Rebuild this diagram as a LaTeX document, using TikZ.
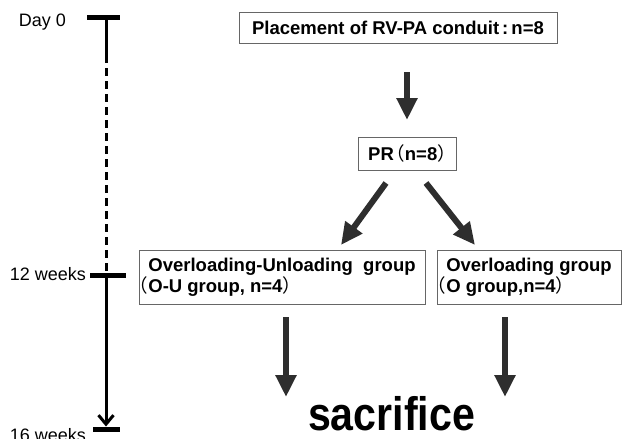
\documentclass[tikz,border=0pt]{standalone}
\usepackage{fontspec}
\setmainfont{Liberation Sans}
\newfontfamily\cjk{Noto Sans CJK SC}
\usetikzlibrary{arrows.meta}
\newcommand{\lpar}{{\mdseries\cjk （}}
\newcommand{\rpar}{{\mdseries\cjk ）}}
\begin{document}
\begin{tikzpicture}[x=1pt,y=-1pt,
  box/.style={draw=black!60, line width=0.9pt, inner sep=0pt, align=left,
    font=\fontsize{18.5}{19.5}\selectfont\bfseries},
  blockarrow/.style={black!82, line width=6pt, -{Triangle[length=22pt,width=20pt]}},
  tickbar/.style={fill=black, inner sep=0pt, minimum height=5pt},
  axis/.style={line width=3pt},
  lbl/.style={font=\fontsize{18}{20}\selectfont, inner sep=0pt}
]
\useasboundingbox (0,0) rectangle (624,439);
% timeline
\node[tickbar, minimum width=33pt] (b0) at (103.5,17) {};
\node[tickbar, minimum width=36pt] (b12) at (108,275) {};
\node[tickbar, minimum width=27pt] (b16) at (106.5,429) {};
\coordinate (v0) at (106,17);
\coordinate (v1) at (106,55);
\coordinate (v12) at (106,275);
\coordinate (v16) at (106,426.5);
\draw[axis] (v0) -- (v1);
\draw[axis, dash pattern=on 8pt off 5pt] (v1) -- (v12);
\draw[axis, -{Straight Barb[length=9pt,width=15pt]}] (v12) -- (v16);
\node[lbl, anchor=base east] (d0) at (66,27) {Day 0};
\node[lbl, anchor=base east] (w12) at (86,280) {12 weeks};
\node[lbl, anchor=base east] (w16) at (86,441) {16 weeks};
% boxes
\node[box, minimum width=318pt, minimum height=31pt] (place) at (398,27.5)
  {Placement of RV-PA conduit\,:\,n=8};
\node[box, minimum width=98pt, minimum height=33pt] (pr) at (407,153.5)
  {PR\kern-7.5pt\lpar n=8\rpar\kern-10pt};
\node[box, minimum width=286pt, minimum height=54pt] (ou) at (282,277.5)
  {Overloading-Unloading\ \ group\\\llap{\lpar}O-U group, n=4\rpar};
\node[box, minimum width=184pt, minimum height=54pt] (og) at (529,277.5)
  {Overloading group\\\llap{\lpar}O group,n=4\rpar};
\node[font=\fontsize{47}{50}\selectfont\bfseries, inner sep=0pt, text depth=0pt, anchor=base, xscale=0.875] (sac) at (391.5,430) {sacrifice};
% arrows
\coordinate (a1s) at (407,72);
\coordinate (a1e) at (407,120);
\draw[blockarrow] (a1s) -- (a1e);
\coordinate (a2s) at (386,183);
\coordinate (a2e) at (341,245);
\draw[blockarrow] (a2s) -- (a2e);
\coordinate (a3s) at (426,183);
\coordinate (a3e) at (475,245);
\draw[blockarrow] (a3s) -- (a3e);
\coordinate (a4s) at (286,317);
\coordinate (a4e) at (286,397);
\draw[blockarrow] (a4s) -- (a4e);
\coordinate (a5s) at (505,317);
\coordinate (a5e) at (505,397);
\draw[blockarrow] (a5s) -- (a5e);
\end{tikzpicture}
\end{document}
